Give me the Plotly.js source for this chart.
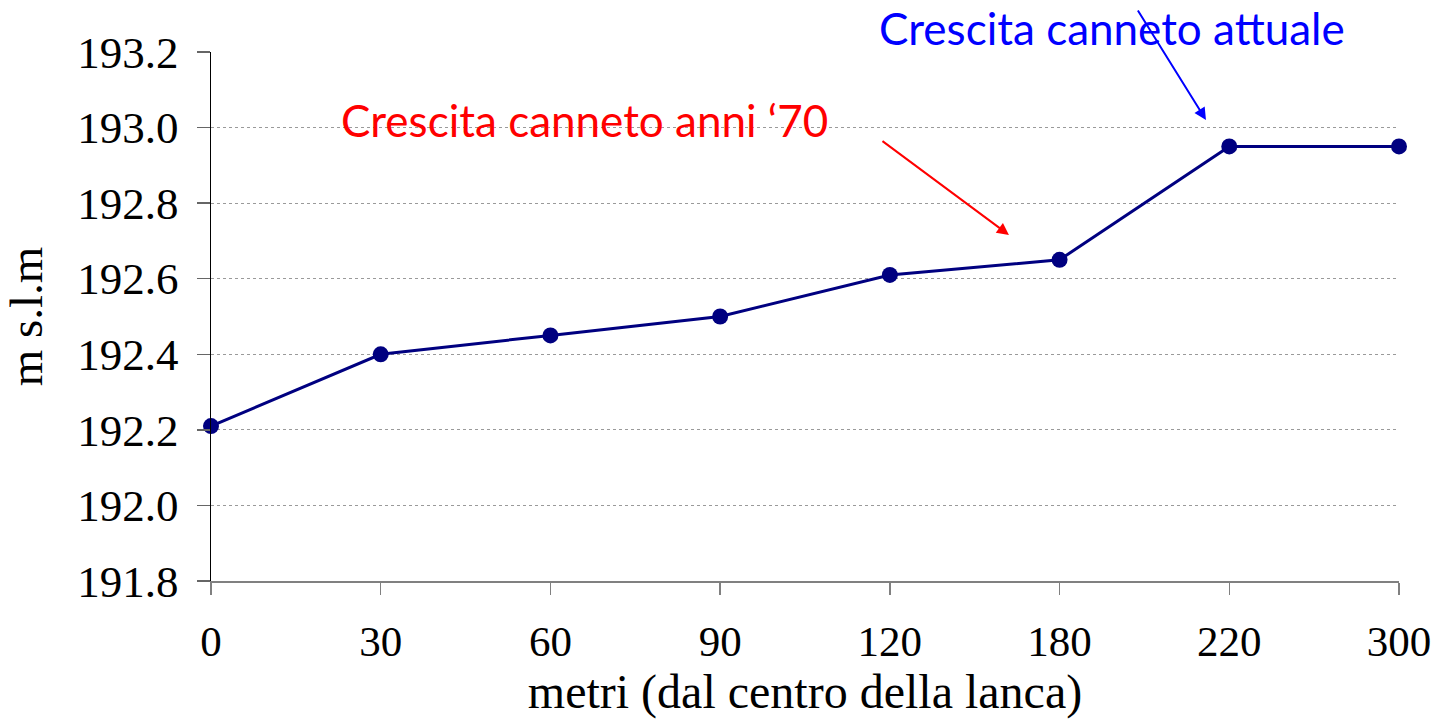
<!DOCTYPE html>
<html>
<head>
<meta charset="utf-8">
<script src="https://cdn.plot.ly/plotly-3.0.1.min.js"></script>
<style>html,body{margin:0;padding:0;background:#fff;}#chart{width:1441px;height:720px;}</style>
</head>
<body>
<div id="chart"></div>
<script>
const distances = ['0', '30', '60', '90', '120', '180', '220', '300'];
const elevations = [192.21, 192.40, 192.45, 192.50, 192.61, 192.65, 192.95, 192.95];
const yTicks = [191.8, 192.0, 192.2, 192.4, 192.6, 192.8, 193.0, 193.2];
const yTickLabels = ['191.8', '192.0', '192.2', '192.4', '192.6', '192.8', '193.0', '193.2'];
const xTitle = 'metri (dal centro della lanca)';
const yTitle = 'm s.l.m';
const noteRed = 'Crescita canneto anni \u201870';
const noteBlue = 'Crescita canneto attuale';

const serif = 'Liberation Serif, Times New Roman, serif';
const sans = 'Lato, Carlito, Calibri, sans-serif';

const trace = {
  x: distances,
  y: elevations,
  type: 'scatter',
  mode: 'lines+markers',
  line: {color: '#000080', width: 3},
  marker: {color: '#000080', size: 16},
  cliponaxis: false,
  hoverinfo: 'skip'
};

const layout = {
  width: 1441,
  height: 720,
  margin: {l: 211, r: 42, t: 52, b: 139},
  paper_bgcolor: '#ffffff',
  plot_bgcolor: '#ffffff',
  showlegend: false,
  font: {family: serif, color: '#000', size: 44},
  xaxis: {
    type: 'category',
    range: [0, 7],
    showgrid: false,
    zeroline: false,
    showline: true,
    linecolor: '#808080',
    linewidth: 2,
    ticks: 'outside',
    ticklen: 12,
    tickwidth: 1.5,
    tickcolor: '#808080',
    tickfont: {family: serif, size: 43, color: '#000'},
    ticklabelstandoff: 9,
    title: {text: xTitle, font: {family: serif, size: 48, color: '#000'}, standoff: 2}
  },
  yaxis: {
    range: [191.8, 193.2],
    tickvals: yTicks,
    ticktext: yTickLabels,
    showgrid: true,
    gridcolor: '#9a9a9a',
    griddash: 'dot',
    gridwidth: 1,
    zeroline: false,
    showline: true,
    linecolor: '#000',
    linewidth: 1.5,
    ticks: 'outside',
    ticklen: 13,
    tickwidth: 1.5,
    tickcolor: '#666',
    tickfont: {family: serif, size: 45, color: '#000'},
    ticklabelstandoff: 9,
    title: {text: yTitle, font: {family: serif, size: 47, color: '#000'}, standoff: 24}
  },
  annotations: [
    {
      xref: 'paper', yref: 'paper', x: 0.3148, y: 0.872,
      text: noteRed, showarrow: false,
      font: {family: sans, size: 44, color: '#ff0000'},
      xanchor: 'center', yanchor: 'middle'
    },
    {
      xref: 'paper', yref: 'paper', x: 0.758, y: 1.045,
      text: noteBlue, showarrow: false,
      font: {family: sans, size: 44, color: '#0000ff'},
      xanchor: 'center', yanchor: 'middle'
    },
    {
      xref: 'paper', yref: 'paper', x: 0.6717, y: 0.654,
      ax: -128, ay: -95, text: '', showarrow: true,
      arrowhead: 2, arrowsize: 1.2, arrowwidth: 2, arrowcolor: '#ff0000'
    },
    {
      xref: 'paper', yref: 'paper', x: 0.8375, y: 0.8715,
      ax: -69, ay: -111, text: '', showarrow: true,
      arrowhead: 2, arrowsize: 1.2, arrowwidth: 2, arrowcolor: '#0000ff'
    }
  ]
};

Plotly.newPlot('chart', [trace], layout, {displayModeBar: false, staticPlot: true});
</script>
</body>
</html>
